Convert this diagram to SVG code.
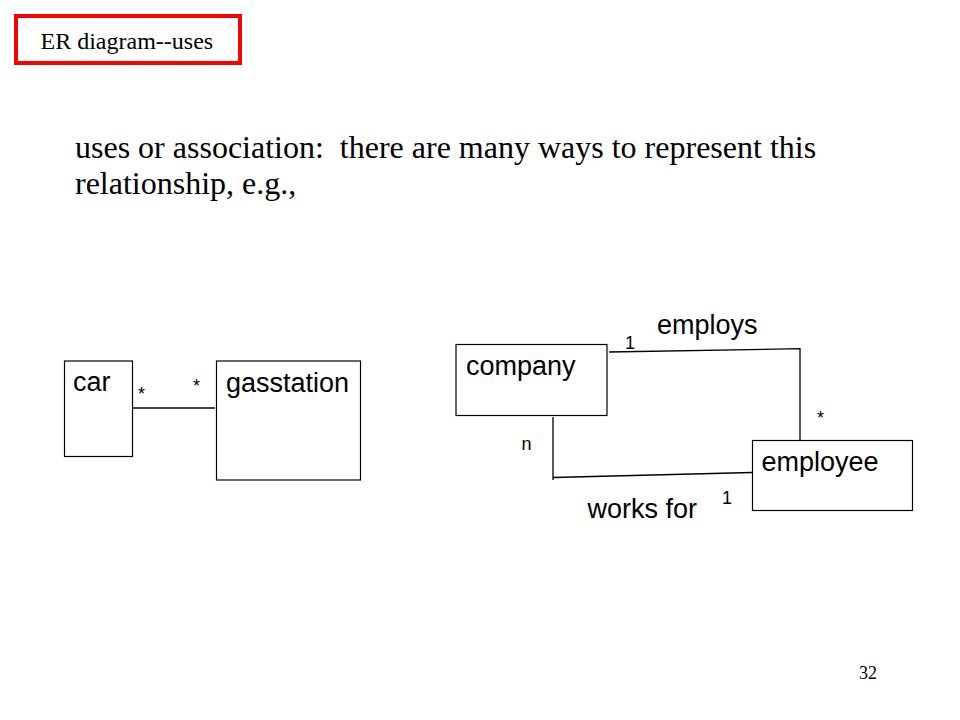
<svg xmlns="http://www.w3.org/2000/svg" width="960" height="720" viewBox="0 0 960 720">
<style>
.serif{font-family:"Liberation Serif","Times New Roman",serif;fill:#000}
.sans{font-family:"Liberation Sans",Arial,sans-serif;fill:#000}
.big{font-size:27px}
.small{font-size:18px}
.box{fill:#fff;stroke:#000;stroke-width:1.2}
.conn{fill:none;stroke:#000;stroke-width:1.3}
</style>
<rect width="960" height="720" fill="#fff"/>
<g id="title">
<rect x="16" y="16" width="224" height="47" fill="#fff" stroke="#ff0000" stroke-width="4"/>
<text class="serif" x="40.5" y="49" font-size="24">ER diagram--uses</text>
</g>
<g id="description">
<text class="serif" x="75" y="158" font-size="32" xml:space="preserve">uses or association:  there are many ways to represent this</text>
<text class="serif" x="75" y="194" font-size="32">relationship, e.g.,</text>
</g>
<g id="connectors">
<line class="conn" x1="128" y1="408" x2="215" y2="408"/>
<polyline class="conn" points="609,352 800,348.7 800,443"/>
<line class="conn" x1="553" y1="417" x2="553" y2="480"/>
<line class="conn" x1="553" y1="477.5" x2="752" y2="472.5"/>
</g>
<g id="car">
<rect class="box" x="64.5" y="361" width="68" height="95.5"/>
<text class="sans big" x="73" y="391">car</text>
</g>
<g id="gasstation">
<rect class="box" x="216.5" y="361" width="144" height="119"/>
<text class="sans big" x="226" y="392">gasstation</text>
</g>
<g id="company">
<rect class="box" x="456" y="344.5" width="151" height="71"/>
<text class="sans big" x="466" y="375">company</text>
</g>
<g id="employee">
<rect class="box" x="752.5" y="440.5" width="160" height="70"/>
<text class="sans big" x="761.5" y="471">employee</text>
</g>
<g id="labels">
<text class="sans small" x="138" y="400">*</text>
<text class="sans small" x="193" y="392">*</text>
<text class="sans big" x="657" y="334">employs</text>
<text class="sans small" x="625" y="349">1</text>
<text class="sans small" x="817" y="424">*</text>
<text class="sans small" x="521.5" y="450">n</text>
<text class="sans small" x="722" y="504">1</text>
<text class="sans big" x="587.5" y="518">works for</text>
</g>
<g id="page-number">
<text class="serif" x="859" y="679" font-size="18">32</text>
</g>
</svg>
